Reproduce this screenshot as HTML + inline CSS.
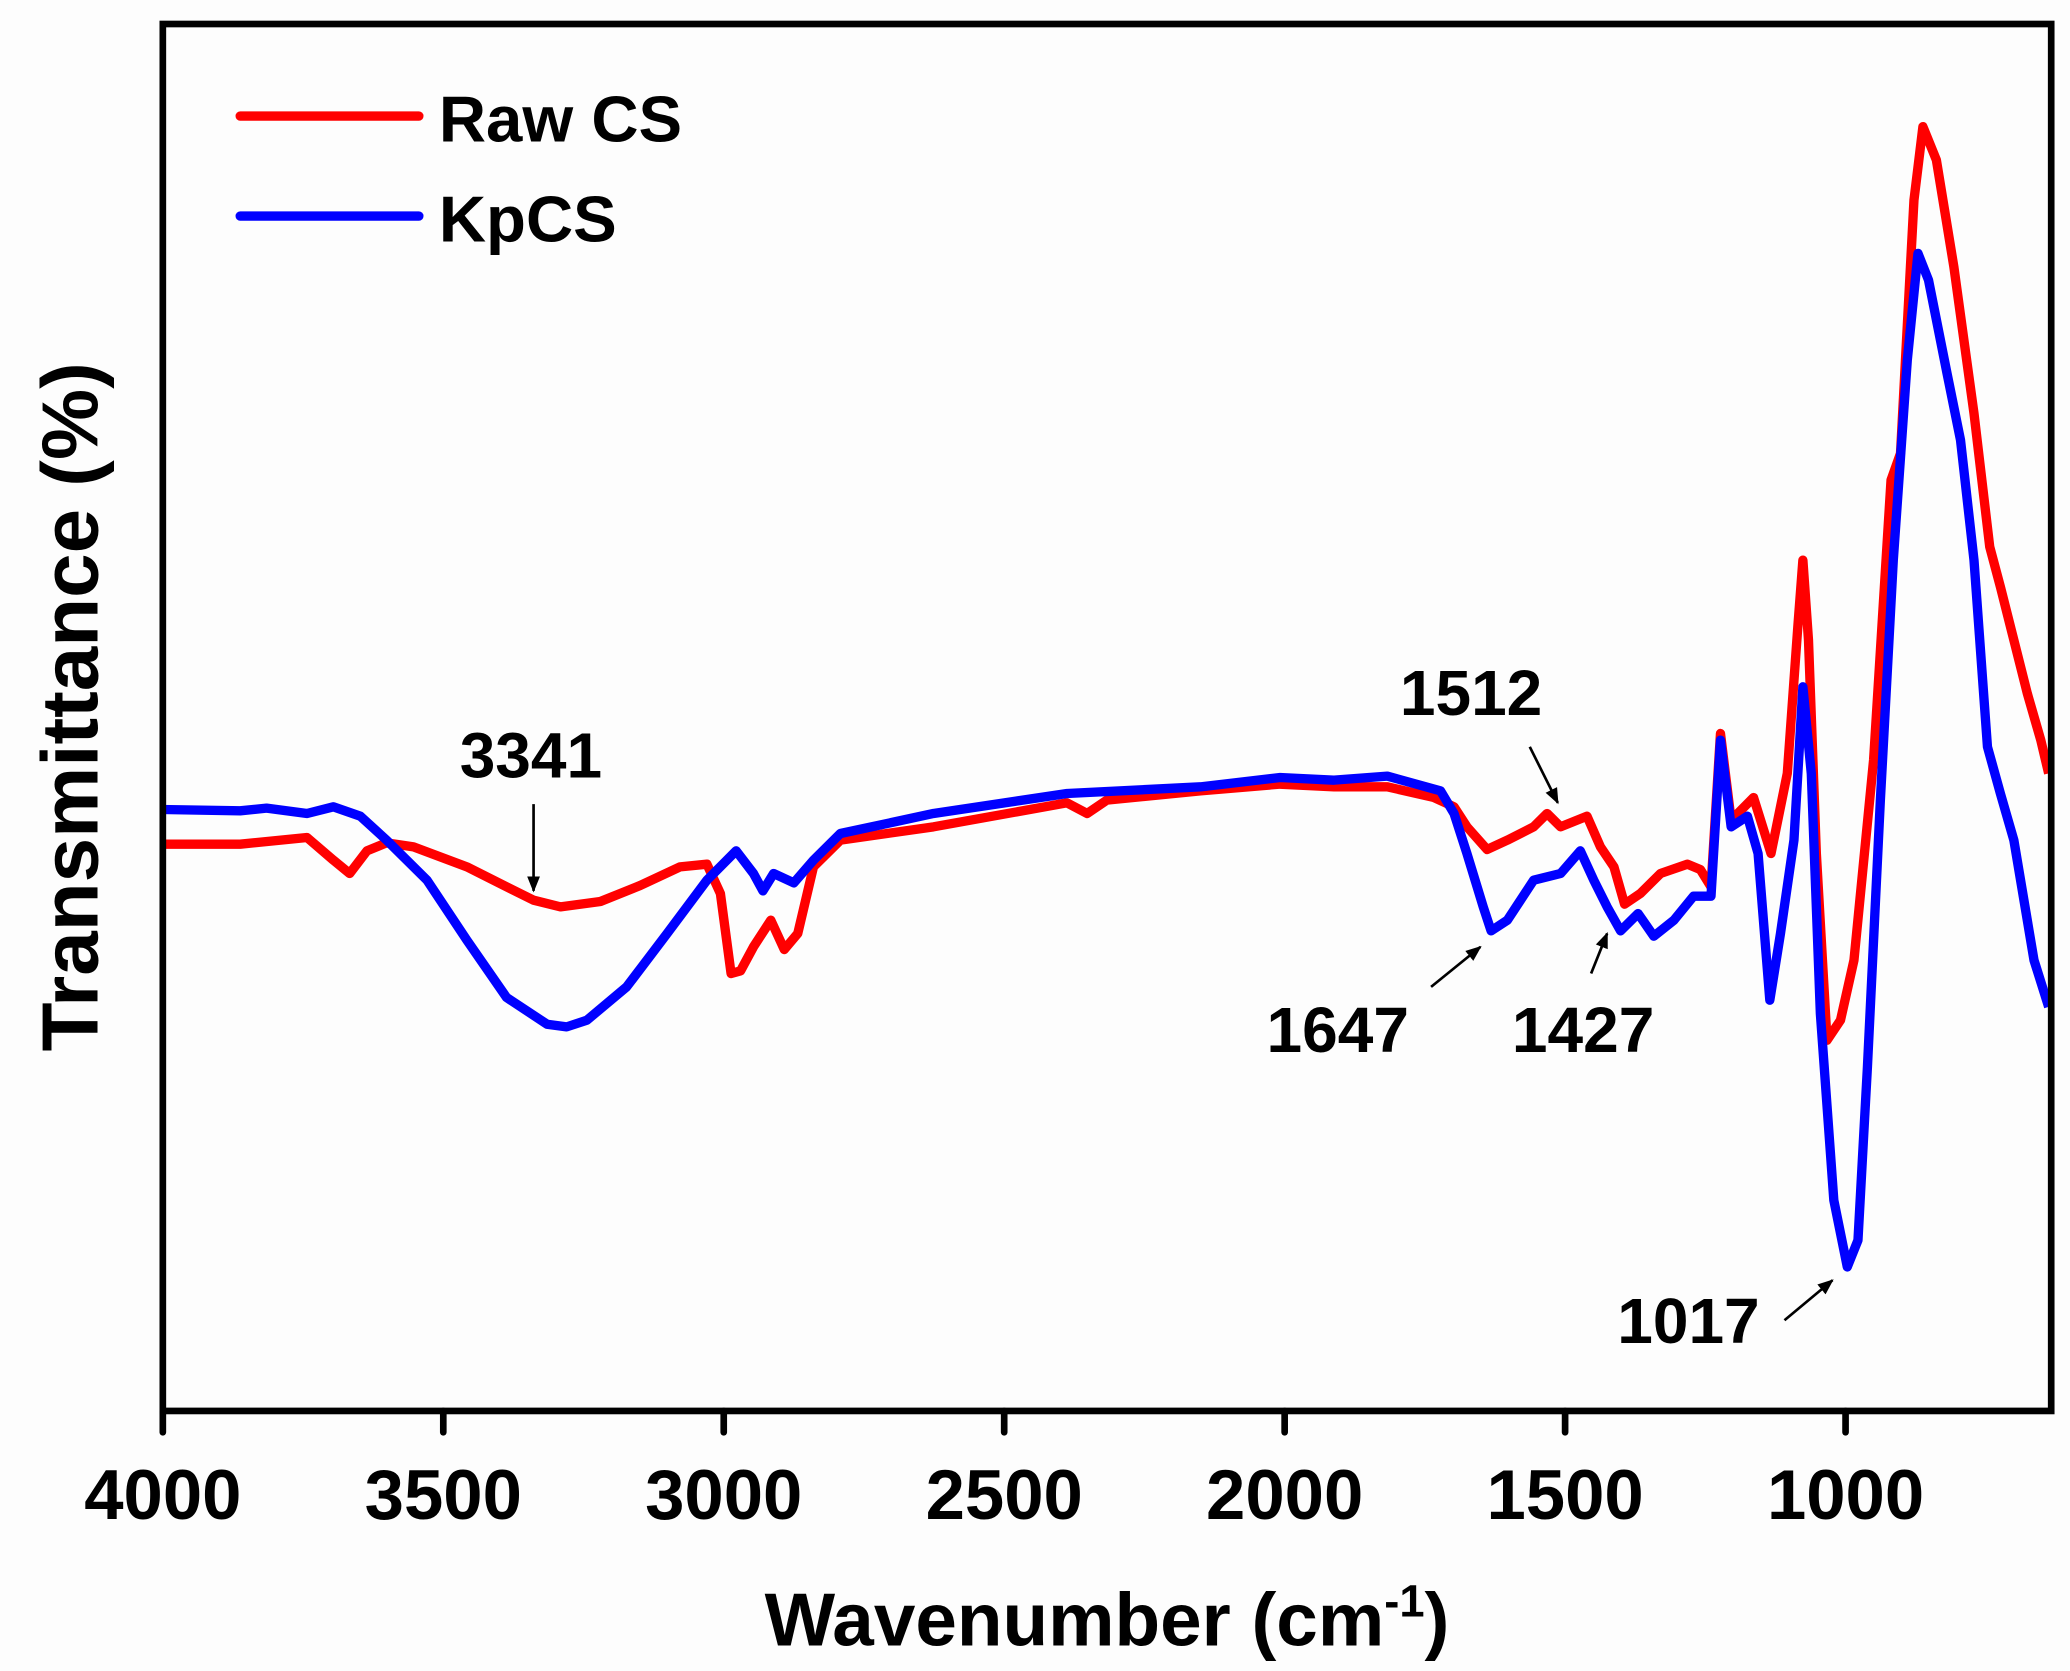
<!DOCTYPE html>
<html><head><meta charset="utf-8"><style>
html,body{margin:0;padding:0;background:#fdfdfd;}
svg{display:block;}
text{font-family:"Liberation Sans",Arial,sans-serif;font-weight:bold;fill:#000;}
</style></head><body>
<svg id="chart" width="2070" height="1671" viewBox="0 0 1552 1253" xmlns="http://www.w3.org/2000/svg">
<rect x="0" y="0" width="1552" height="1253" fill="#fdfdfd"/>
<g id="plot"></g>
<rect x="122" y="18" width="1416" height="1040" fill="none" stroke="#000" stroke-width="5"/>
<g id="xticks"></g>
<text x="830" y="1234" font-size="56" text-anchor="middle">Wavenumber (cm<tspan font-size="34" dy="-22">-1</tspan><tspan dy="22">)</tspan></text>
<text transform="translate(73,530) rotate(-90)" font-size="60" text-anchor="middle">Transmittance (%)</text>
<g>
<line x1="180" y1="87" x2="314" y2="87" stroke="#ff0000" stroke-width="7" stroke-linecap="round"/>
<text x="329" y="106" font-size="49">Raw CS</text>
<line x1="180" y1="162" x2="314" y2="162" stroke="#0000ff" stroke-width="7" stroke-linecap="round"/>
<text x="329" y="181" font-size="49">KpCS</text>
</g>
<defs><marker id="ah" viewBox="0 0 10 10" refX="9" refY="5" markerWidth="6" markerHeight="6" orient="auto"><path d="M0,1 L10,5 L0,9 z" fill="#000"/></marker></defs>
<g>
<text x="398" y="583" font-size="48" text-anchor="middle">3341</text>
<line x1="400" y1="603" x2="400" y2="668" stroke="#000" stroke-width="2" marker-end="url(#ah)"/>
<text x="1103" y="536" font-size="48" text-anchor="middle">1512</text>
<line x1="1147" y1="560" x2="1168" y2="602" stroke="#000" stroke-width="2" marker-end="url(#ah)"/>
<text x="1003" y="789" font-size="48" text-anchor="middle">1647</text>
<line x1="1073" y1="740" x2="1110" y2="710" stroke="#000" stroke-width="2" marker-end="url(#ah)"/>
<text x="1187" y="789" font-size="48" text-anchor="middle">1427</text>
<line x1="1193" y1="730" x2="1205" y2="700" stroke="#000" stroke-width="2" marker-end="url(#ah)"/>
<text x="1266" y="1007" font-size="48" text-anchor="middle">1017</text>
<line x1="1338" y1="990" x2="1374" y2="960" stroke="#000" stroke-width="2" marker-end="url(#ah)"/>
</g>
</svg>
<script>
const xTicks = [4000,3500,3000,2500,2000,1500,1000];
const rawWn = [4000,3862,3743,3696,3667,3636,3601,3553,3458,3387,3339,3291,3220,3149,3078,3030,3006,2987,2970,2947,2916,2892,2868,2840,2792,2626,2388,2352,2317,2150,2008,1912,1817,1734,1698,1675,1639,1603,1556,1532,1508,1461,1437,1413,1394,1366,1330,1282,1259,1240,1223,1204,1164,1133,1104,1085,1076,1066,1052,1033,1009,985,950,919,902,878,862,838,807,771,743,724,700,676,652,638];
const rawT = [42.5,42.5,43,41.3,40.3,42,42.6,42.3,40.8,39.3,38.3,37.8,38.2,39.4,40.8,41,38.8,32.8,33,34.8,36.8,34.6,35.8,40.8,42.8,43.8,45.6,44.8,45.8,46.5,47,46.8,46.8,46,45.3,43.8,42.1,42.8,43.8,44.8,43.8,44.6,42.3,40.8,38,38.8,40.3,41,40.6,39.3,50.8,44.3,46,41.8,47.8,58.8,63.8,57.8,41.8,27.8,29.3,33.8,48.8,69.8,71.8,90.8,96.3,93.8,85.8,74.8,64.8,61.8,57.8,53.8,50.3,47.8];
const kpWn = [4000,3862,3815,3743,3696,3648,3601,3529,3458,3387,3315,3280,3244,3173,3101,3030,2978,2947,2930,2911,2875,2840,2792,2626,2388,2150,2008,1912,1817,1722,1698,1675,1646,1632,1603,1556,1508,1473,1449,1425,1401,1370,1342,1306,1271,1240,1223,1204,1175,1156,1135,1116,1092,1076,1061,1045,1021,997,978,961,938,915,890,871,852,819,795,771,747,724,700,664,638];
const kpT = [45.1,45,45.2,44.8,45.3,44.6,42.8,39.8,35.3,31,29,28.8,29.3,31.8,35.8,39.8,42,40.3,39,40.3,39.6,41.3,43.3,44.8,46.3,46.8,47.5,47.3,47.6,46.5,44.8,41.8,37.8,36,36.8,39.8,40.3,42,39.8,37.8,36,37.3,35.6,36.8,38.6,38.6,50.3,43.8,44.6,41.8,30.8,35.8,42.8,54.3,47.8,29.8,15.8,10.8,12.8,25.8,45.8,63.8,78.8,86.8,84.8,77.8,72.8,63.8,49.8,46.3,42.8,33.8,30.3];

const X0=122, X1=1538, Y0=1058, Y1=18;
function xs(wn){ return X0 + (4000-wn)/500*210.3; }
function ys(t){ return Y0 - t/104*(Y0-Y1); }
const NS="http://www.w3.org/2000/svg";
const plot=document.getElementById('plot');
function drawSeries(wn,t,color,name){
  const p=document.createElementNS(NS,'path');
  let d='';
  for(let i=0;i<wn.length;i++){ d+=(i?'L':'M')+xs(wn[i]).toFixed(1)+','+ys(t[i]).toFixed(1); }
  p.setAttribute('d',d);
  p.setAttribute('fill','none');
  p.setAttribute('stroke',color);
  p.setAttribute('stroke-width','7');
  p.setAttribute('stroke-linejoin','round');
  
  
  plot.appendChild(p);
}
drawSeries(rawWn,rawT,'#ff0000','series-raw-cs');
drawSeries(kpWn,kpT,'#0000ff','series-kpcs');
const xt=document.getElementById('xticks');
xTicks.forEach(v=>{
  const x=xs(v);
  const l=document.createElementNS(NS,'line');
  l.setAttribute('x1',x);l.setAttribute('x2',x);
  l.setAttribute('y1',1058);l.setAttribute('y2',1074);
  l.setAttribute('stroke','#000');l.setAttribute('stroke-width','5');l.setAttribute('stroke-linecap','round');
  
  
  xt.appendChild(l);
  const t=document.createElementNS(NS,'text');
  t.setAttribute('x',x);t.setAttribute('y',1139);
  t.setAttribute('font-size','53');t.setAttribute('text-anchor','middle');
  t.textContent=v;
  
  
  xt.appendChild(t);
});
</script>
</body></html>
